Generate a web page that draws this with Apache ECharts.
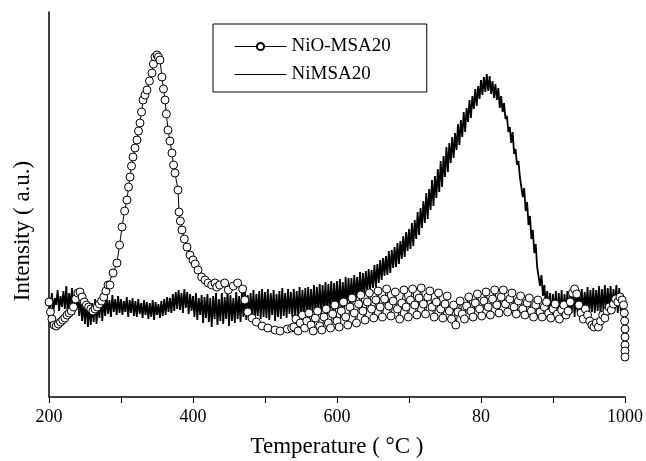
<!DOCTYPE html>
<html>
<head>
<meta charset="utf-8">
<script src="https://cdn.jsdelivr.net/npm/echarts@6/dist/echarts.min.js"></script>
<style>
html,body{margin:0;padding:0;background:#fff;}
#main{width:646px;height:461px;}
</style>
</head>
<body>
<div id="main"></div>
<script>
// x 轴刻度 (原图 800 处只写了 "80")
var tickValues=[200,400,600,800,1000];
var tickLabels=['200','400','600','80','1000'];
var seriesNames=['NiO-MSA20','NiMSA20'];

// NiMSA20: 200~1000, 每 2°C 一个点
var niStart=200;
var niStep=2;
var niValues=[
    97,89,104,85,99,92,107,86,101,90,
    106,88,111,83,104,91,109,82,103,87,
    102,81,99,76,95,73,97,70,92,72,
    94,75,98,73,96,79,101,76,99,81,
    100,83,97,80,102,85,98,82,101,84,
    98,82,96,85,100,80,97,84,99,81,
    96,80,98,83,94,79,97,82,95,78,
    94,80,97,77,95,82,93,79,96,81,
    98,82,100,85,99,84,103,86,105,88,
    107,87,104,84,108,89,105,83,103,86,
    101,80,104,77,99,82,102,74,100,79,
    103,75,99,70,101,78,104,72,98,76,
    104,73,100,78,106,71,102,76,99,74,
    105,78,101,75,104,80,107,77,102,79,
    104,80,107,76,103,81,106,78,108,80,
    105,79,108,77,104,82,107,76,103,80,
    106,78,109,81,104,79,108,83,105,80,
    108,80,106,82,110,79,107,83,109,81,
    110,81,108,84,112,82,110,85,113,83,
    112,85,115,83,113,87,116,86,114,88,
    116,86,118,89,115,90,120,88,119,93,
    119,95,122,97,120,99,125,98,124,102,
    126,104,128,107,127,109,132,110,133,114,
    137,117,139,121,141,122,146,124,147,129,
    150,130,154,133,156,138,161,140,165,146,
    168,148,174,151,177,158,185,162,189,169,
    196,174,204,178,208,187,217,191,221,199,
    228,205,236,210,241,220,250,225,254,234,
    260,239,264,247,273,252,277,260,285,265,
    289,275,297,279,301,288,308,291,311,298,
    317,302,320,305,323,306,321,303,316,299,
    313,297,309,289,301,285,294,278,281,265,
    270,254,265,243,248,232,236,220,222,200,
    209,186,195,172,181,158,167,144,153,130,
    132,111,122,101,112,91,106,84,104,80,
    103,82,106,79,104,84,107,80,103,83,
    106,81,104,84,108,80,105,85,107,82,
    108,83,105,86,110,82,107,85,109,84,
    107,86,111,83,108,87,112,84,109,86,
    111,85,108,88,112,84,109,86,104,80,
    72
];

// NiO-MSA20: [温度, 强度]
var nioTemp=[
    200,202,204,207,210,213,216,219,222,225,228,231,234,237,240,243,246,249,252,255,
    258,261,264,267,270,273,276,279,282,284.7,289,294.4,298,301.4,305,308.3,310.5,312.5,314.6,316.7,
    319.5,322.2,324.3,326.4,328.5,330.6,333.3,336.1,339.5,343,345,347.2,350,352,354.2,356.9,359,361.1,363,365.3,
    368,370.8,373,375,379.2,380.6,382.5,384.7,388,391.7,395.8,400,403,407,412,416.7,421,426,430.6,433,
    437,444,449,456,462,469,472,476,482,488,496,504,514,521,531,537,
    540,543,546,549,552,555,558,561,564,567,570,573,576,579,582,585,588,591,594,597,
    600,603,606,609,612,615,618,621,624,627,630,633,636,639,642,645,648,651,654,657,
    660,663,666,669,672,675,678,681,684,687,690,693,696,699,702,705,708,711,714,717,
    720,723,726,729,732,735,738,741,744,747,750,753,756,759,762,765,768,771,774,777,
    780,783,786,789,792,795,798,801,804,807,810,813,816,819,822,825,828,831,834,837,
    840,843,846,849,852,855,858,861,864,867,870,873,876,879,882,885,888,891,894,897,
    900,903,906,909,912,915,918,921,924,927,930,933,936,939,942,945,948,951,954,957,
    960,963,966,969,972,975,978,981,984,987,990,993,996,998,999,999.5,1000,1000,1000,1000,1000
];
var nioValues=[
    95,85,78,72,71,73,75,77,79,82,84,86,90,98,104,105,100,95,92,90,
    88,86,88,90,93,96,100,106,112,112,124,134,152,170,186,197,210,220,231,240,
    249,257,266,274,285,297,302,307,316,324,333,340,342,340,337,320,308,297,283,267,
    256,244,232,224,207,185,176,167,158,150,142,137,133,127,120,117,114,112,114,110,
    112,114,107,111,114,108,97,85,79,75,71,69,67,66,68,69,
    70,78,66,74,82,69,76,84,72,66,79,86,71,67,80,88,74,69,83,92,
    76,70,86,95,80,72,90,99,84,74,93,102,86,77,95,104,88,79,97,106,
    90,80,98,108,91,81,96,105,88,78,94,107,90,80,97,108,92,82,99,109,
    93,83,100,106,90,80,95,104,88,79,93,101,86,78,92,72,85,96,83,78,
    91,100,86,80,94,103,88,81,96,105,90,82,98,107,92,84,100,107,93,85,
    98,104,90,83,96,101,88,82,94,99,86,80,92,97,85,80,90,95,84,79,
    88,93,83,78,87,92,82,86,95,104,108,103,92,84,78,88,82,76,72,70,
    74,70,76,82,79,86,90,87,93,98,95,100,97,92,84,76,68,60,52,46,40
];

var niData=[];
for (var i=0;i<niValues.length;i++){
    niData.push([niStart+i*niStep,niValues[i]]);
}
var nioData=[];
for (var j=0;j<nioTemp.length;j++){
    nioData.push([nioTemp[j],nioValues[j]]);
}
var labelMap={};
for (var k=0;k<tickValues.length;k++){
    labelMap[tickValues[k]]=tickLabels[k];
}

var serif='"Liberation Serif","Times New Roman",serif';
var myChart=echarts.init(document.getElementById('main'),null,{renderer:'canvas'});
var option={
    backgroundColor:'#fff',
    animation:false,
    grid:{left:49,right:21,top:12,bottom:64,outerBoundsMode:'none'},
    legend:{
        data:[
            {name:seriesNames[0]},
            {name:seriesNames[1],itemStyle:{color:'rgba(0,0,0,0)',borderColor:'rgba(0,0,0,0)',opacity:0}}
        ],
        orient:'vertical',
        left:213,
        top:24,
        padding:[13,36,8,21],
        itemWidth:52,
        itemHeight:9,
        itemGap:9,
        borderColor:'#000',
        borderWidth:1,
        lineStyle:{width:1},
        textStyle:{fontFamily:serif,fontSize:19,color:'#000'}
    },
    xAxis:{
        type:'value',
        min:200,
        max:1000,
        interval:100,
        name:'Temperature ( °C )',
        nameLocation:'middle',
        nameGap:38,
        nameTextStyle:{fontFamily:serif,fontSize:23,color:'#000'},
        axisLine:{lineStyle:{color:'#000',width:1.5}},
        axisTick:{show:true,length:6,lineStyle:{color:'#000',width:1}},
        axisLabel:{
            margin:11,
            fontFamily:serif,
            fontSize:18,
            color:'#000',
            formatter:function (v) {
                var s=labelMap[Math.round(v)];
                return s===undefined?'':s;
            }
        },
        splitLine:{show:false}
    },
    yAxis:{
        type:'value',
        min:0,
        max:385,
        axisLine:{show:true,lineStyle:{color:'#000',width:1.5}},
        axisTick:{show:false},
        axisLabel:{show:false},
        splitLine:{show:false}
    },
    graphic:[{
        type:'text',
        x:23,
        y:231,
        rotation:Math.PI/2,
        style:{
            text:'Intensity ( a.u.)',
            fontFamily:serif,
            fontSize:23,
            fill:'#000',
            align:'center',
            verticalAlign:'middle'
        }
    }],
    series:[
        {
            name:seriesNames[0],
            type:'line',
            data:nioData,
            z:3,
            symbol:'circle',
            symbolSize:8,
            showSymbol:true,
            lineStyle:{color:'#000',width:1},
            itemStyle:{color:'#fff',borderColor:'#000',borderWidth:1}
        },
        {
            name:seriesNames[1],
            type:'line',
            data:niData,
            z:2,
            symbol:'none',
            lineStyle:{color:'#000',width:1.8},
            itemStyle:{color:'#000'}
        }
    ]
};
myChart.setOption(option);
</script>
</body>
</html>
